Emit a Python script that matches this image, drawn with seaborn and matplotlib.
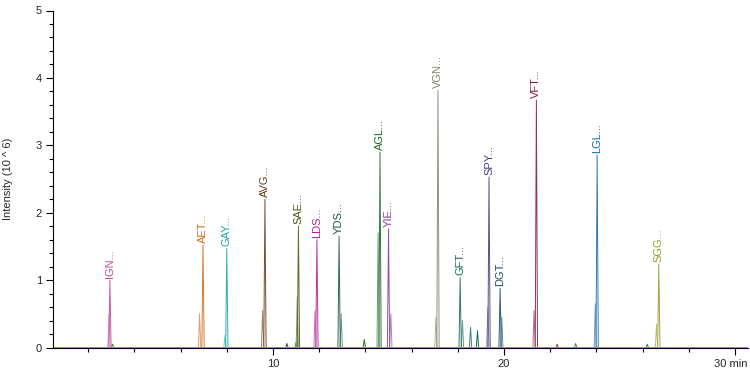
import numpy as np
import pandas as pd
import matplotlib
matplotlib.use('Agg')
import matplotlib.pyplot as plt
import matplotlib.transforms as mtransforms
import seaborn as sns
from matplotlib.ticker import MultipleLocator, FixedLocator
from matplotlib.colors import to_rgb

# peptide peaks: retention time (min), apex intensity (10^6), colour
names = ['IGN...', 'AET...', 'GAY...', 'AVG...', 'SAE...', 'LDS...', 'YDS...', 'AGL...',
         'YIE...', 'VGN...', 'GFT...', 'SPY...', 'DGT...', 'VFT...', 'LGL...', 'SGG...']
rts = [2.94, 6.97, 8.0, 9.65, 11.1, 11.9, 12.86, 14.63,
       15.0, 17.14, 18.1, 19.35, 19.83, 21.4, 24.03, 26.7]
heights = [1.0, 1.52, 1.47, 2.2, 1.8, 1.6, 1.65, 2.9,
           1.76, 3.82, 1.04, 2.53, 0.88, 3.67, 2.86, 1.24]
colors = ['#c04a9a', '#d06a1a', '#1aa5a5', '#6b3a12', '#4a5a1a', '#b0209a', '#1a5a3a', '#1a6a2a',
          '#8a3a9a', '#7a8a6a', '#1a6a5a', '#4a3a7a', '#1a4a6a', '#8a1a3a', '#1a6aaa', '#9a9a2a']

# second (isotope) trace of each peptide
iso_rts = [2.9, 6.82, 7.92, 9.55, 11.05, 11.82, 12.95, 14.55,
           15.1, 17.05, 18.2, 19.3, 19.9, 21.3, 23.95, 26.6]
iso_heights = [0.5, 0.5, 0.18, 0.55, 0.75, 0.55, 0.5, 1.7,
               0.5, 0.45, 0.4, 0.6, 0.45, 0.55, 0.65, 0.35]

# small background peaks
minor_rts = [3.05, 10.6, 11.0, 13.95, 18.55, 18.85, 22.3, 23.1, 26.2]
minor_heights = [0.05, 0.06, 0.08, 0.12, 0.3, 0.25, 0.05, 0.06, 0.05]
minor_colors = ['#2a8a3a', '#4a3a7a', '#1a8a6a', '#2a6a2a', '#3a7aa0', '#1a6a5a', '#a03a6a', '#3a7aaa', '#2a8a4a']

x_min, x_max = 0.476, 30.56
half_w = 0.05


def lighten(c, f):
    r, g, b = to_rgb(c)
    return (r + (1 - r) * f, g + (1 - g) * f, b + (1 - b) * f)


rows = []
palette = {}


def add_trace(key, rt, h, col):
    xs = [x_min, rt - half_w, rt, rt + half_w, x_max]
    ys = [0, 0, h, 0, 0]
    for x, y in zip(xs, ys):
        rows.append((key, x, y))
    palette[key] = col


for i, (rt, h) in enumerate(zip(minor_rts, minor_heights)):
    add_trace('m%d' % i, rt, h, minor_colors[i])
for i in range(len(names)):
    add_trace('i%d' % i, iso_rts[i], iso_heights[i], lighten(colors[i], 0.35))
    add_trace('p%d' % i, rts[i], heights[i], lighten(colors[i], 0.1))

df = pd.DataFrame(rows, columns=['trace', 'rt', 'intensity'])

sns.set_style('ticks')
plt.rcParams['font.family'] = ['Liberation Sans', 'DejaVu Sans']

fig = plt.figure(figsize=(7.5, 3.75), dpi=100)
ax = fig.add_axes([53 / 750, 1 - 347.5 / 375, (748 - 53) / 750, (347.5 - 10.5) / 375])

sns.lineplot(data=df, x='rt', y='intensity', hue='trace', units='trace', estimator=None,
             sort=False, palette=palette, legend=False, linewidth=0.7, ax=ax)

for name, rt, h, col in zip(names, rts, heights, colors):
    ax.text(rt, h + 0.03, name, rotation=90, ha='center', va='bottom',
            fontsize=8, color=col)

ax.set_xlim(x_min, x_max)
ax.set_ylim(0, 5)
ax.xaxis.set_major_locator(FixedLocator([10, 20, 30]))
ax.set_xticklabels(['10', '20', '30 min'])
ax.xaxis.set_minor_locator(MultipleLocator(2))
ax.yaxis.set_major_locator(MultipleLocator(1))
ax.yaxis.set_minor_locator(MultipleLocator(0.2))
ax.tick_params(which='major', length=5, width=0.8, labelsize=8, color='black', pad=3)
ax.tick_params(which='minor', length=3, width=0.8, color='black')
ax.set_xlabel('')
ax.set_ylabel('Intensity (10 ^ 6)', fontsize=8, labelpad=16)
for s in ['top', 'right']:
    ax.spines[s].set_visible(False)
for s in ['left', 'bottom']:
    ax.spines[s].set_linewidth(0.8)
    ax.spines[s].set_color('black')

# nudge the last x tick label so it stays inside the figure
last = ax.get_xticklabels()[-1]
last.set_transform(last.get_transform() + mtransforms.ScaledTranslation(-4 / 100, 0, fig.dpi_scale_trans))

fig.savefig('out.png', dpi=100)
